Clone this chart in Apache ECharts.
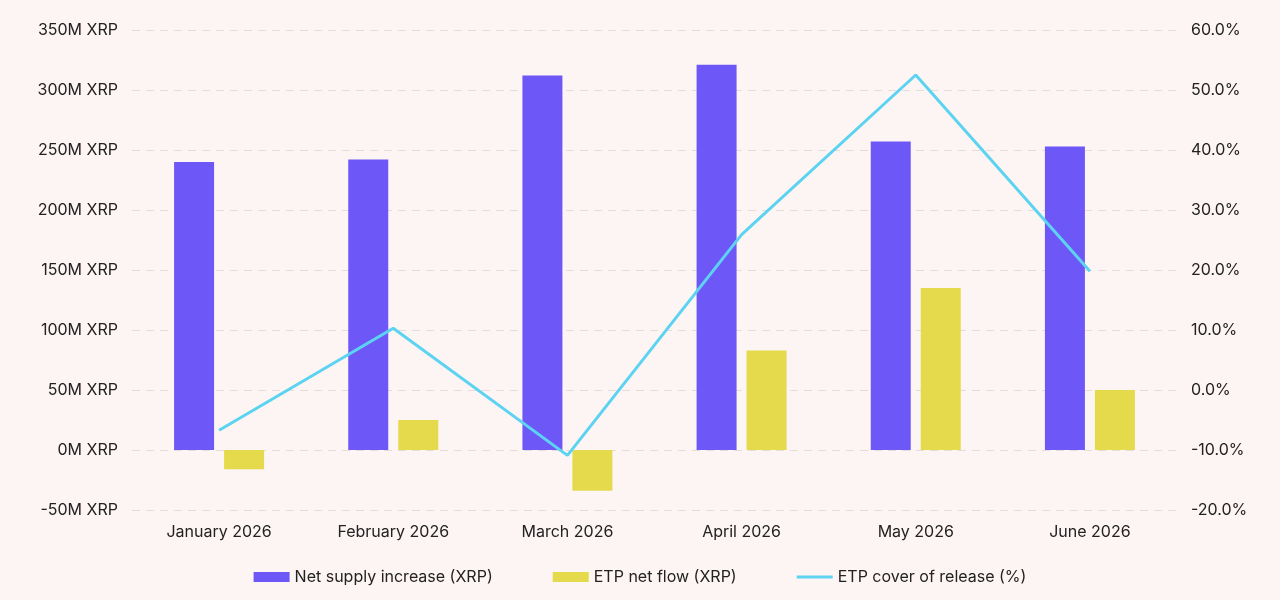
<!DOCTYPE html>
<html><head><meta charset="utf-8">
<script src="https://cdn.jsdelivr.net/npm/echarts@6/dist/echarts.min.js"></script>
<style>html,body{margin:0;padding:0;background:#fdf5f3}#c{width:1280px;height:600px}</style>
</head><body><div id="c"></div>
<script>
// 月份
const months = ['January 2026', 'February 2026', 'March 2026', 'April 2026', 'May 2026', 'June 2026'];
// 净供应增加 (M XRP)
const netSupply = [240, 242, 312, 321, 257, 253];
// ETP 净流入 (M XRP)
const etpFlow = [-16, 25, -34, 83, 135, 50];
// ETP 覆盖率 (%)
const etpCover = [-6.7, 10.3, -10.9, 25.9, 52.5, 19.8];

let chart = echarts.init(document.getElementById('c'));
const txt = { color: '#222', fontSize: 16, fontFamily: 'Inter' };
chart.setOption({
  backgroundColor: '#fdf5f3',
  grid: { left: 132, right: 103, top: 30, bottom: 90 },
  legend: {
    bottom: 10, left: 'center', itemGap: 60, itemWidth: 36, itemHeight: 10,
    textStyle: txt,
    data: [
      { name: 'Net supply increase (XRP)', icon: 'rect' },
      { name: 'ETP net flow (XRP)', icon: 'rect' },
      { name: 'ETP cover of release (%)', icon: 'path://M0,0L36,0L36,3L0,3Z', itemStyle: { color: '#5dd3f2' } }
    ]
  },
  xAxis: {
    type: 'category', data: months,
    axisLine: { show: false, onZero: false }, axisTick: { show: false },
    axisLabel: Object.assign({ margin: 14 }, txt)
  },
  yAxis: [{
    type: 'value', min: -50, max: 350, interval: 50,
    axisLabel: Object.assign({ formatter: v => v + 'M XRP', margin: 14 }, txt),
    splitLine: { lineStyle: { color: '#e6dcda', type: [8, 6] } }
  }, {
    type: 'value', min: -20, max: 60, interval: 10, position: 'right',
    axisLabel: Object.assign({ formatter: v => v.toFixed(1) + '%', margin: 14 }, txt),
    splitLine: { show: false }
  }],
  series: [{
    name: 'Net supply increase (XRP)', type: 'bar', data: netSupply,
    barWidth: 40, barGap: '25%', itemStyle: { color: '#6e57f7' }
  }, {
    name: 'ETP net flow (XRP)', type: 'bar', data: etpFlow,
    barWidth: 40, itemStyle: { color: '#e4da4c' }
  }, {
    name: 'ETP cover of release (%)', type: 'line', yAxisIndex: 1, data: etpCover,
    symbol: 'none', lineStyle: { color: '#5dd3f2', width: 3 }, itemStyle: { color: '#5dd3f2' }
  }]
});
</script></body></html>
